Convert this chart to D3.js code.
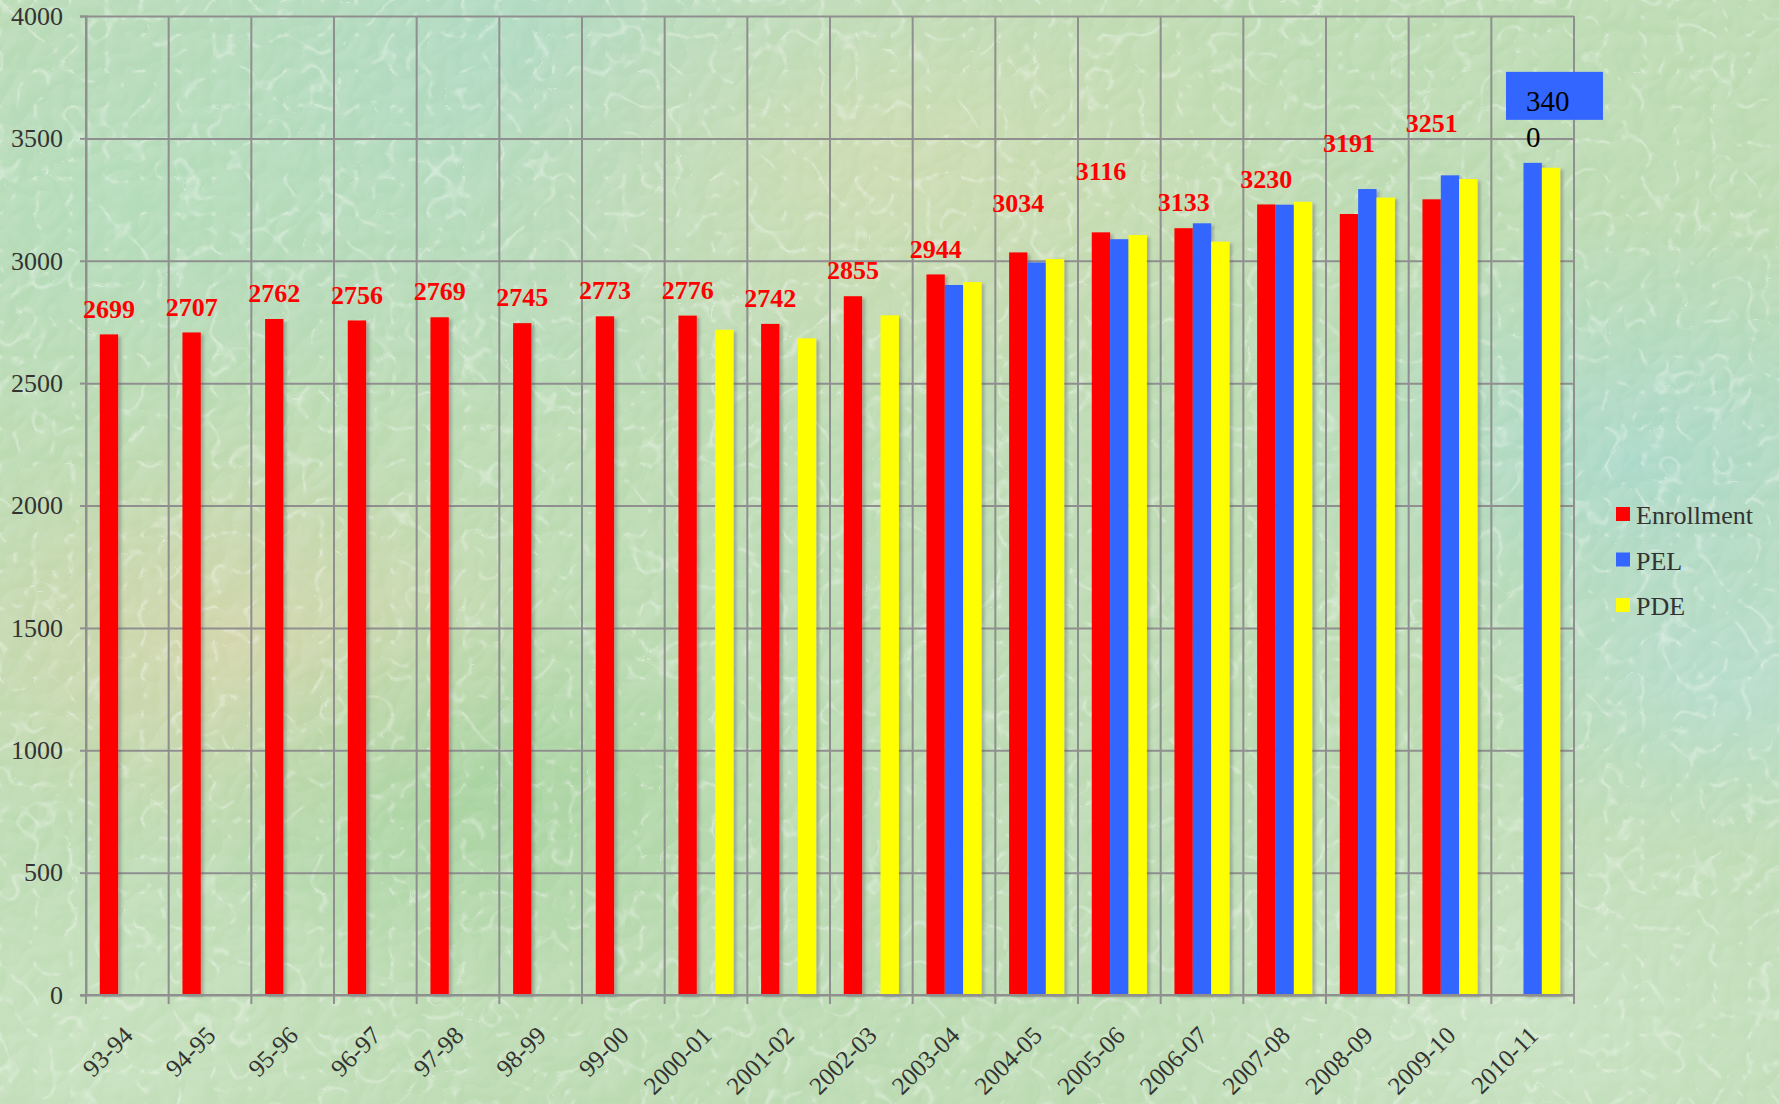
<!DOCTYPE html>
<html><head><meta charset="utf-8">
<script src="https://cdn.jsdelivr.net/npm/d3@7"></script>
<style>html,body{margin:0;padding:0;overflow:hidden;background:#bcdcb4}</style>
</head><body><svg id="chart" width="1779" height="1104"></svg>
<script>
// ---------- DATA ----------
const categories = ["93-94","94-95","95-96","96-97","97-98","98-99","99-00","2000-01","2001-02","2002-03","2003-04","2004-05","2005-06","2006-07","2007-08","2008-09","2009-10","2010-11"];
const enrollment = [2699,2707,2762,2756,2769,2745,2773,2776,2742,2855,2944,3034,3116,3133,3230,3191,3251,null];
const pel = [null,null,null,null,null,null,null,null,null,null,2901,2993,3088,3153,3229,3293,3349,3400];
const pde = [null,null,null,null,null,null,null,2718,2683,2777,2913,3007,3105,3078,3241,3258,3334,3380];
const yTicks = [0,500,1000,1500,2000,2500,3000,3500,4000];
const seriesNames = ["Enrollment","PEL","PDE"];
const seriesColors = ["#ff0000","#3366ff","#ffff00"];
// extra lift (px) of the manually moved enrollment labels
const labelLift = [0,0,0,0,0,0,0,0,0,0,0,24,35,0,0,45,50,0];

// ---------- LAYOUT ----------
const W = 1779, H = 1104;
const P = {left:86, right:1574, top:16, bottom:995};
const FONT = "'Liberation Serif','Times New Roman',serif";
const svg = d3.select("#chart");
const defs = svg.append("defs");

// background gradients
const bgPatches = [
  {cx:0.30,cy:0.05,r:0.35,c:"#a9d9c9",o:0.7},
  {cx:0.50,cy:0.15,r:0.25,c:"#d6dcae",o:0.7},
  {cx:0.13,cy:0.58,r:0.20,c:"#d8d4a8",o:0.8},
  {cx:0.28,cy:0.72,r:0.18,c:"#a4d19c",o:0.8},
  {cx:0.92,cy:0.42,r:0.22,c:"#a7d8cf",o:0.8},
  {cx:0.97,cy:0.62,r:0.15,c:"#b4ddd6",o:0.7},
  {cx:0.85,cy:0.92,r:0.25,c:"#cfe5c9",o:0.7},
  {cx:0.05,cy:0.95,r:0.20,c:"#cbe3c2",o:0.7},
  {cx:0.70,cy:0.55,r:0.22,c:"#bfdcb3",o:0.6},
  {cx:0.05,cy:0.20,r:0.2,c:"#b2dcbd",o:0.7}
];
svg.append("rect").attr("width",W).attr("height",H).attr("fill","#bcdbb3");
bgPatches.forEach((p,i)=>{
  const g = defs.append("radialGradient").attr("id","bg"+i)
    .attr("cx",p.cx).attr("cy",p.cy).attr("r",p.r).attr("gradientUnits","objectBoundingBox");
  g.append("stop").attr("offset",0).attr("stop-color",p.c).attr("stop-opacity",p.o);
  g.append("stop").attr("offset",1).attr("stop-color",p.c).attr("stop-opacity",0);
  svg.append("rect").attr("width",W).attr("height",H).attr("fill",`url(#bg${i})`);
});
// crack-like texture: light lines along turbulence creases
const tex = defs.append("filter").attr("id","tex").attr("x",0).attr("y",0).attr("width",1).attr("height",1);
tex.append("feTurbulence").attr("type","turbulence").attr("baseFrequency","0.028").attr("numOctaves",2).attr("seed",3).attr("result","t");
tex.append("feColorMatrix").attr("in","t").attr("type","matrix")
  .attr("values","0 0 0 0 1  0 0 0 0 1  0 0 0 0 1  -7 0 0 0 0.85").attr("result","lines");
tex.append("feGaussianBlur").attr("in","lines").attr("stdDeviation",0.6);
svg.append("rect").attr("width",W).attr("height",H).attr("fill","#fff").attr("filter","url(#tex)").attr("opacity",0.4);
// soft embossed shading
const tex2 = defs.append("filter").attr("id","tex2").attr("x",0).attr("y",0).attr("width",1).attr("height",1);
tex2.append("feTurbulence").attr("type","turbulence").attr("baseFrequency","0.028").attr("numOctaves",2).attr("seed",3).attr("result","t");
const lit = tex2.append("feDiffuseLighting").attr("in","t").attr("surfaceScale",3).attr("diffuseConstant",1).attr("lighting-color","#ffffff").attr("result","l");
lit.append("feDistantLight").attr("azimuth",225).attr("elevation",55);
tex2.append("feColorMatrix").attr("in","l").attr("type","matrix")
  .attr("values","0 0 0 0 1  0 0 0 0 1  0 0 0 0 1  1.4 0 0 0 -1.0");
svg.append("rect").attr("width",W).attr("height",H).attr("fill","#fff").attr("filter","url(#tex2)").attr("opacity",0.35);

// shadow for bars
const sh = defs.append("filter").attr("id","shadow").attr("x","-20%").attr("y","-5%").attr("width","160%").attr("height","115%");
sh.append("feDropShadow").attr("dx",3).attr("dy",2).attr("stdDeviation",1.5).attr("flood-color","#555").attr("flood-opacity",0.35);

// ---------- SCALES ----------
const x = d3.scaleBand().domain(categories).range([P.left,P.right]).padding(0);
const xs = d3.scaleBand().domain(seriesNames).range([0,x.bandwidth()]).paddingInner(0).paddingOuter(0.75);
const y = d3.scaleLinear().domain([0,4000]).range([P.bottom,P.top]);
const GRID = "#8f8f8f";

// horizontal grid
svg.append("g").attr("transform",`translate(${P.left},0)`)
  .call(d3.axisLeft(y).tickValues(yTicks).tickSize(-(P.right-P.left)).tickFormat(""))
  .call(g=>g.select(".domain").remove())
  .call(g=>g.selectAll("line").attr("stroke",GRID).attr("stroke-width",2));
// y axis with outward ticks & labels
svg.append("g").attr("transform",`translate(${P.left},0)`)
  .call(d3.axisLeft(y).tickValues(yTicks).tickSize(6).tickPadding(17).tickFormat(d3.format("d")))
  .attr("font-family",FONT)
  .call(g=>g.select(".domain").attr("stroke",GRID).attr("stroke-width",2))
  .call(g=>g.selectAll("line").attr("stroke",GRID).attr("stroke-width",2))
  .call(g=>g.selectAll("text").attr("font-family",FONT).attr("font-size",26).attr("fill","#333"));

// vertical grid at category boundaries
const bounds = categories.map(c=>x(c)).concat([P.right]);
svg.append("g").selectAll("line").data(bounds).join("line")
  .attr("x1",d=>d).attr("x2",d=>d).attr("y1",P.top).attr("y2",P.bottom+9)
  .attr("stroke",GRID).attr("stroke-width",2);

// bars
const series = [enrollment,pel,pde];
const barsG = svg.append("g").attr("filter","url(#shadow)");
series.forEach((vals,si)=>{
  barsG.append("g").selectAll("rect")
    .data(categories.map((c,i)=>({c,v:vals[i]})).filter(d=>d.v!=null))
    .join("rect")
    .attr("x",d=>x(d.c)+xs(seriesNames[si]))
    .attr("width",xs.bandwidth())
    .attr("y",d=>y(d.v))
    .attr("height",d=>P.bottom-y(d.v))
    .attr("fill",seriesColors[si]);
});
// x axis line
svg.append("line").attr("x1",P.left-6).attr("x2",P.right).attr("y1",P.bottom).attr("y2",P.bottom)
  .attr("stroke",GRID).attr("stroke-width",2);

// x labels
svg.append("g").attr("transform",`translate(0,${P.bottom})`)
  .call(d3.axisBottom(x).tickSize(0))
  .attr("font-family",FONT)
  .call(g=>g.select(".domain").remove())
  .call(g=>g.selectAll("text").attr("font-family",FONT).attr("font-size",25).attr("fill","#333")
     .attr("text-anchor","end").attr("y",0).attr("dy",0).attr("x",0)
     .attr("transform","translate(7,42) rotate(-45)"));

// enrollment labels
svg.append("g").selectAll("text")
  .data(categories.map((c,i)=>({c,v:enrollment[i],lift:labelLift[i]})).filter(d=>d.v!=null))
  .join("text")
  .attr("x",d=>x(d.c)+xs("Enrollment")+xs.bandwidth()/2)
  .attr("y",d=>y(d.v)-26-d.lift)
  .attr("dy","0.35em")
  .attr("text-anchor","middle")
  .attr("font-family",FONT).attr("font-weight","bold").attr("font-size",26).attr("fill","#ff0000")
  .text(d=>d.v);

// PEL 2010-11 label box
const lastI = categories.length-1;
const bx = x(categories[lastI])+xs("PEL");
const btop = y(pel[lastI]);
const s = String(pel[lastI]);
svg.append("rect").attr("x",bx-17.5).attr("y",btop-91).attr("width",97).attr("height",48).attr("fill","#3366ff");
svg.append("text").attr("x",bx+2.5).attr("y",btop-52).attr("font-family",FONT).attr("font-size",29).attr("fill","#000").text(s.slice(0,3));
svg.append("text").attr("x",bx+2.5).attr("y",btop-16).attr("font-family",FONT).attr("font-size",29).attr("fill","#000").text(s.slice(3));

// legend
const leg = svg.append("g").attr("transform","translate(1616,507)");
seriesNames.forEach((n,i)=>{
  const g = leg.append("g").attr("transform",`translate(0,${i*45.5})`);
  g.append("rect").attr("width",14).attr("height",14).attr("fill",seriesColors[i]);
  g.append("text").attr("x",20).attr("y",17).attr("font-family",FONT).attr("font-size",26).attr("fill","#333").text(n);
});
</script></body></html>
